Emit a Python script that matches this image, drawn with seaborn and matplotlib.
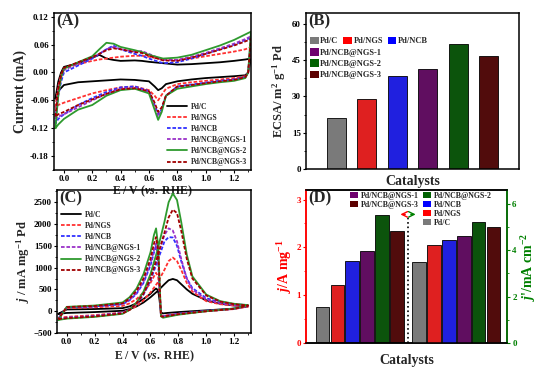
import matplotlib as mpl
mpl.use('Agg')
from matplotlib import pyplot as plt
from matplotlib.ticker import AutoMinorLocator, FormatStrFormatter
from matplotlib.patches import Patch
import numpy as np
import seaborn as sb

sb.set_style("ticks")
plt.rcParams['font.family'] = ['Liberation Serif', 'DejaVu Serif']
plt.rcParams['font.weight'] = 'bold'
plt.rcParams['axes.labelweight'] = 'bold'
plt.rcParams['mathtext.fontset'] = 'custom'
plt.rcParams['mathtext.rm'] = 'Liberation Serif:bold'
plt.rcParams['mathtext.it'] = 'Liberation Serif:italic:bold'
plt.rcParams['mathtext.bf'] = 'Liberation Serif:bold'
plt.rcParams['axes.edgecolor'] = 'black'
plt.rcParams['axes.linewidth'] = 1.1
plt.rcParams['xtick.color'] = 'black'
plt.rcParams['ytick.color'] = 'black'
plt.rcParams['xtick.labelsize'] = 6.5
plt.rcParams['ytick.labelsize'] = 6.5
plt.rcParams['axes.labelsize'] = 9

names = ["Pd/C", "Pd/NGS", "Pd/NCB", "Pd/NCB@NGS-1", "Pd/NCB@NGS-2", "Pd/NCB@NGS-3"]
line_colors = ["black", "#ff3030", "#3030ff", "#9a30c8", "#2e9a2e", "#a00000"]
bar_colors = ["#7a7a7a", "#ff0000", "#0000ff", "#6e006e", "#006000", "#5c0000"]

# (A) CV in KOH, mA
cv_e_fwd = [-0.06, -0.04, -0.02, 0.0, 0.1, 0.2, 0.25, 0.3, 0.35, 0.4, 0.5, 0.55, 0.6, 0.7, 0.8, 0.9, 1.0, 1.1, 1.2, 1.28, 1.32]
cv_e_rev = [1.32, 1.3, 1.28, 1.2, 1.1, 1.0, 0.9, 0.8, 0.72, 0.69, 0.665, 0.64, 0.6, 0.5, 0.4, 0.3, 0.2, 0.1, 0.0, -0.04, -0.06]
cv_pdc_fwd = [-0.056, -0.02, 0.0, 0.012, 0.02, 0.032, 0.038, 0.03, 0.027, 0.025, 0.026, 0.025, 0.023, 0.02, 0.017, 0.018, 0.02, 0.022, 0.025, 0.028, 0.03]
cv_pdc_rev = [0.03, 0.0, -0.006, -0.008, -0.01, -0.012, -0.015, -0.019, -0.025, -0.034, -0.038, -0.03, -0.019, -0.016, -0.015, -0.017, -0.019, -0.021, -0.027, -0.04, -0.056]
cv_ngs_fwd = [-0.075, -0.03, -0.005, 0.008, 0.018, 0.025, 0.028, 0.03, 0.032, 0.034, 0.036, 0.036, 0.034, 0.028, 0.027, 0.03, 0.035, 0.04, 0.045, 0.05, 0.055]
cv_ngs_rev = [0.055, 0.0, -0.008, -0.012, -0.015, -0.018, -0.021, -0.025, -0.035, -0.048, -0.06, -0.05, -0.038, -0.03, -0.032, -0.038, -0.045, -0.055, -0.065, -0.07, -0.075]
cv_ncb_fwd = [-0.11, -0.05, -0.02, 0.0, 0.015, 0.03, 0.04, 0.05, 0.058, 0.05, 0.04, 0.036, 0.03, 0.02, 0.022, 0.03, 0.04, 0.05, 0.06, 0.07, 0.075]
cv_ncb_rev = [0.075, 0.0, -0.01, -0.015, -0.018, -0.022, -0.026, -0.03, -0.05, -0.08, -0.09, -0.07, -0.04, -0.03, -0.032, -0.042, -0.055, -0.07, -0.09, -0.1, -0.11]
cv_ngs1_fwd = [-0.1, -0.04, -0.01, 0.005, 0.02, 0.033, 0.04, 0.05, 0.055, 0.05, 0.045, 0.046, 0.04, 0.027, 0.027, 0.034, 0.042, 0.052, 0.062, 0.072, 0.078]
cv_ngs1_rev = [0.078, 0.0, -0.01, -0.016, -0.019, -0.023, -0.027, -0.032, -0.05, -0.08, -0.095, -0.075, -0.042, -0.033, -0.035, -0.046, -0.06, -0.075, -0.09, -0.095, -0.1]
cv_ngs2_fwd = [-0.12, -0.05, -0.01, 0.008, 0.022, 0.035, 0.05, 0.064, 0.062, 0.055, 0.048, 0.044, 0.038, 0.03, 0.032, 0.038, 0.048, 0.058, 0.07, 0.082, 0.088]
cv_ngs2_rev = [0.088, 0.0, -0.012, -0.018, -0.021, -0.025, -0.03, -0.035, -0.05, -0.085, -0.102, -0.08, -0.045, -0.035, -0.038, -0.05, -0.07, -0.08, -0.1, -0.112, -0.12]
cv_ngs3_fwd = [-0.095, -0.035, -0.005, 0.01, 0.022, 0.033, 0.04, 0.048, 0.052, 0.05, 0.044, 0.042, 0.036, 0.026, 0.025, 0.032, 0.04, 0.049, 0.058, 0.067, 0.072]
cv_ngs3_rev = [0.072, 0.0, -0.01, -0.016, -0.019, -0.023, -0.027, -0.03, -0.05, -0.075, -0.085, -0.065, -0.04, -0.034, -0.036, -0.046, -0.058, -0.07, -0.085, -0.09, -0.095]

# (C) ethanol oxidation, mA mg-1 Pd
eo_e_fwd = [-0.06, 0.0, 0.2, 0.4, 0.45, 0.5, 0.55, 0.6, 0.65, 0.7, 0.73, 0.76, 0.79, 0.82, 0.86, 0.9, 1.0, 1.1, 1.2, 1.3]
eo_e_rev = [1.3, 1.2, 1.0, 0.8, 0.72, 0.69, 0.675, 0.665, 0.655, 0.64, 0.625, 0.6, 0.55, 0.5, 0.45, 0.4, 0.2, 0.0, -0.06]
eo_pdc_fwd = [-60, -40, -20, 10, 50, 110, 200, 320, 460, 620, 710, 740, 710, 620, 500, 400, 250, 170, 130, 110]
eo_pdc_rev = [110, 60, 20, -20, -40, -50, -30, 250, 480, 520, 480, 400, 280, 180, 110, 70, 50, 40, -60]
eo_ngs_fwd = [-150, -130, -90, -30, 30, 120, 250, 430, 650, 950, 1150, 1230, 1150, 950, 650, 450, 230, 160, 130, 110]
eo_ngs_rev = [110, 50, 0, -60, -90, -110, -80, 400, 800, 880, 800, 650, 430, 280, 180, 120, 90, 70, -150]
eo_ncb_fwd = [-170, -150, -110, -40, 40, 170, 380, 700, 1150, 1600, 1700, 1690, 1500, 1150, 750, 530, 300, 200, 160, 140]
eo_ncb_rev = [140, 60, 10, -60, -100, -120, -100, 500, 1200, 1500, 1350, 1050, 650, 400, 250, 160, 110, 90, -170]
eo_ngs1_fwd = [-170, -150, -110, -40, 40, 180, 400, 750, 1250, 1750, 1900, 1850, 1600, 1200, 750, 500, 270, 180, 140, 120]
eo_ngs1_rev = [120, 50, 0, -60, -100, -120, -100, 550, 1250, 1550, 1400, 1100, 680, 420, 260, 170, 110, 90, -170]
eo_ngs2_fwd = [-200, -170, -130, -60, 30, 200, 450, 850, 1400, 2050, 2500, 2700, 2550, 2050, 1300, 800, 380, 230, 170, 140]
eo_ngs2_rev = [140, 60, 0, -80, -130, -150, -120, 700, 1500, 1900, 1750, 1350, 850, 520, 320, 200, 130, 100, -200]
eo_ngs3_fwd = [-180, -160, -120, -50, 30, 180, 400, 750, 1250, 1800, 2150, 2330, 2250, 1850, 1200, 750, 360, 220, 160, 130]
eo_ngs3_rev = [130, 55, 0, -70, -110, -130, -110, 650, 1400, 1700, 1550, 1200, 750, 470, 290, 180, 120, 95, -180]

# (B) ECSA
ecsa = [21.0, 28.8, 38.5, 41.2, 51.5, 46.8]

# (D) mass and specific activity
mass_act = [0.75, 1.22, 1.72, 1.92, 2.68, 2.34]
spec_act = [3.5, 4.22, 4.45, 4.62, 5.22, 5.0]
pos_mass = [0, 1, 2, 3, 4, 5]
pos_spec = [6.5, 7.5, 8.5, 9.5, 10.5, 11.5]

cv_fwd = [cv_pdc_fwd, cv_ngs_fwd, cv_ncb_fwd, cv_ngs1_fwd, cv_ngs2_fwd, cv_ngs3_fwd]
cv_rev = [cv_pdc_rev, cv_ngs_rev, cv_ncb_rev, cv_ngs1_rev, cv_ngs2_rev, cv_ngs3_rev]
eo_fwd = [eo_pdc_fwd, eo_ngs_fwd, eo_ncb_fwd, eo_ngs1_fwd, eo_ngs2_fwd, eo_ngs3_fwd]
eo_rev = [eo_pdc_rev, eo_ngs_rev, eo_ncb_rev, eo_ngs1_rev, eo_ngs2_rev, eo_ngs3_rev]
styles = ['-', (0, (2, 1)), (0, (2, 1)), (0, (2, 1)), '-', (0, (2, 1))]

fig = plt.figure(figsize=(5.51, 3.77), dpi=100)
axA = fig.add_axes([0.098, 0.549, 0.3575, 0.4164])
axB = fig.add_axes([0.5554, 0.5517, 0.3866, 0.4138])
axC = fig.add_axes([0.1034, 0.1167, 0.3521, 0.3793])
axD = fig.add_axes([0.5554, 0.0902, 0.3648, 0.4058])
axC.set_facecolor('none')
axD.set_facecolor('none')

leg_kw = dict(frameon=False, fontsize=5.5, handlelength=2.6, labelspacing=0.4,
              borderaxespad=0.1, handletextpad=0.5)

# ---- A
for i in range(6):
    sb.lineplot(x=cv_e_fwd + cv_e_rev, y=cv_fwd[i] + cv_rev[i], sort=False, estimator=None,
                color=line_colors[i], linestyle=styles[i], linewidth=1.3, label=names[i], ax=axA)
axA.set_xlim(-0.07, 1.32)
axA.set_ylim(-0.21, 0.128)
axA.set_xticks([0.0, 0.2, 0.4, 0.6, 0.8, 1.0, 1.2])
axA.set_yticks([-0.18, -0.12, -0.06, 0.0, 0.06, 0.12])
axA.xaxis.set_major_formatter(FormatStrFormatter('%.1f'))
axA.yaxis.set_major_formatter(FormatStrFormatter('%.2f'))
axA.set_xlabel(r"E / V ($vs.$ RHE)", fontsize=8.5, labelpad=0)
axA.set_ylabel("Current (mA)", fontsize=10, labelpad=2)
axA.legend(loc='lower right', **leg_kw)

# ---- C
for i in range(6):
    sb.lineplot(x=eo_e_fwd + eo_e_rev, y=eo_fwd[i] + eo_rev[i], sort=False, estimator=None,
                color=line_colors[i], linestyle=styles[i], linewidth=1.3, label=names[i], ax=axC)
axC.set_xlim(-0.07, 1.32)
axC.set_ylim(-500, 2780)
axC.set_xticks([0.0, 0.2, 0.4, 0.6, 0.8, 1.0, 1.2])
axC.set_yticks([-500, 0, 500, 1000, 1500, 2000, 2500])
axC.xaxis.set_major_formatter(FormatStrFormatter('%.1f'))
axC.set_xlabel(r"E / V ($vs.$ RHE)", fontsize=8.5, labelpad=2)
axC.set_ylabel(r"$j$ / mA mg$^{-1}$ Pd", labelpad=1)
axC.legend(loc='upper left', bbox_to_anchor=(0.0, 0.88), **leg_kw)

for ax in (axA, axC):
    ax.xaxis.set_minor_locator(AutoMinorLocator(2))
    ax.yaxis.set_minor_locator(AutoMinorLocator(2))

# ---- B
sb.barplot(x=names, y=ecsa, hue=names, palette=bar_colors, dodge=False, legend=False,
           width=0.62, edgecolor='black', linewidth=0.6, ax=axB)
axB.set_xlim(-1.0, 6.0)
axB.set_ylim(0, 64.5)
axB.set_yticks([0, 15, 30, 45, 60])
axB.yaxis.set_minor_locator(AutoMinorLocator(2))
axB.set_xticks([])
axB.set_xlabel("Catalysts", fontsize=10, labelpad=4)
axB.set_ylabel(r"ECSA/ m$^{2}$ g$^{-1}$ Pd", labelpad=3)
hB = [Patch(facecolor=bar_colors[i], edgecolor='none') for i in range(6)]
lg1 = axB.legend(hB[:3], names[:3], loc='upper left', bbox_to_anchor=(0.0, 0.875), ncol=3,
                 frameon=False, fontsize=6, handlelength=1.0, handleheight=1.0,
                 handletextpad=0.2, columnspacing=0.6, borderaxespad=0.1)
axB.add_artist(lg1)
axB.legend(hB[3:], names[3:], loc='upper left', bbox_to_anchor=(0.0, 0.8), ncol=1,
           frameon=False, fontsize=6, handlelength=1.0, handleheight=1.0,
           handletextpad=0.2, labelspacing=0.3, borderaxespad=0.1)

# ---- D
axD2 = axD.twinx()
sb.barplot(x=pos_mass, y=mass_act, hue=names, palette=bar_colors, dodge=False, legend=False,
           native_scale=True, width=0.9, edgecolor='black', linewidth=0.6, ax=axD)
sb.barplot(x=pos_spec, y=spec_act, hue=names, palette=bar_colors, dodge=False, legend=False,
           native_scale=True, width=0.9, edgecolor='black', linewidth=0.6, ax=axD2)
axD.set_xlim(-1.1, 12.4)
axD.set_ylim(0, 3.2)
axD2.set_ylim(0, 6.6)
axD.set_yticks([0, 1, 2, 3])
axD2.set_yticks([0, 2, 4, 6])
axD.yaxis.set_minor_locator(AutoMinorLocator(2))
axD2.yaxis.set_minor_locator(AutoMinorLocator(2))
axD.set_xticks([])
axD.set_xlabel("Catalysts", fontsize=10, labelpad=8)
axD.set_ylabel(r"$j$/A mg$^{-1}$", color='red', fontsize=10, labelpad=2)
axD2.set_ylabel(r"$j$'/mA cm$^{-2}$", color='#008000', fontsize=10, labelpad=2)
axD.spines['left'].set_color('red')
axD2.spines['left'].set_color('red')
axD2.spines['right'].set_color('#008000')
axD.tick_params(axis='y', which='both', colors='red')
axD2.tick_params(axis='y', which='both', colors='#008000')
axD.axvline(5.75, ymin=0, ymax=2.62 / 3.2, color='black', linestyle=':', linewidth=1.2)
axD.annotate('', xy=(5.05, 2.69), xytext=(5.75, 2.69),
             arrowprops=dict(arrowstyle='->', color='red', lw=1.0))
axD.annotate('', xy=(6.45, 2.69), xytext=(5.75, 2.69),
             arrowprops=dict(arrowstyle='->', color='#008000', lw=1.0))
hD = [Patch(facecolor=bar_colors[i], edgecolor='none') for i in range(6)]
lgd_kw = dict(loc='upper left', frameon=False, fontsize=5.7, handlelength=1.0,
              handleheight=0.9, handletextpad=0.3, labelspacing=0.12, borderaxespad=0.0)
lgd1 = axD2.legend([hD[3], hD[5]], [names[3], names[5]], bbox_to_anchor=(0.205, 1.01), **lgd_kw)
axD2.add_artist(lgd1)
axD2.legend([hD[4], hD[2], hD[1], hD[0]], [names[4], names[2], names[1], names[0]],
            bbox_to_anchor=(0.568, 1.01), **lgd_kw)

for ax in (axA, axB, axC, axD, axD2):
    ax.tick_params(which='major', direction='out', length=2.5, width=0.8, pad=1.2)
    ax.tick_params(which='minor', direction='out', length=1.6, width=0.6)
    for s in ax.spines.values():
        s.set_visible(True)

for ax, lab in ((axA, "(A)"), (axB, "(B)"), (axC, "(C)"), (axD2, "(D)")):
    ax.text(0.01, 0.995, lab, transform=ax.transAxes, ha='left', va='top',
            fontsize=12, fontweight='bold')

fig.savefig('out.png', format='png', dpi=100)
